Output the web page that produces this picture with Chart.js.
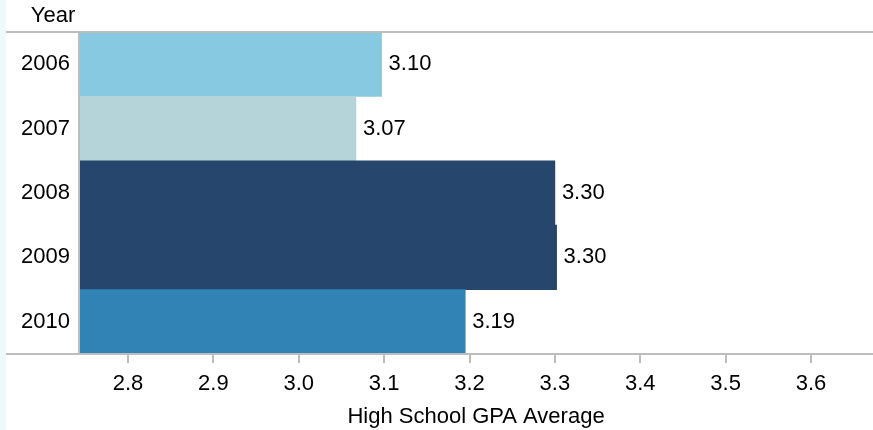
<!DOCTYPE html>
<html>
<head>
<meta charset="utf-8">
<script src="https://cdn.jsdelivr.net/npm/chart.js@4"></script>
<style>
  html, body { margin: 0; padding: 0; background: #fff; }
  #wrap { width: 873px; height: 430px; position: relative; }
</style>
</head>
<body>
<div id="wrap"><canvas id="c" width="873" height="430"></canvas></div>
<script>
// data
const years   = ['2006', '2007', '2008', '2009', '2010'];
const gpa     = [3.097, 3.067, 3.300, 3.302, 3.195];
const labels  = ['3.10', '3.07', '3.30', '3.30', '3.19'];
const colors  = ['#86c9e1', '#b5d4da', '#26466d', '#26466d', '#3283b5'];
const xTicks  = [2.8, 2.9, 3.0, 3.1, 3.2, 3.3, 3.4, 3.5, 3.6];

const FONT = "'Liberation Sans', Arial, sans-serif";
const LINE = '#bdbdbd';

// ── Extras: left strip, frame lines, "Year" header, bar value labels ──
const extras = {
  id: 'extras',
  beforeDraw(chart) {
    const ctx = chart.ctx;
    ctx.save();
    ctx.fillStyle = '#eef9fb';
    ctx.fillRect(0, 0, 6, chart.height);
    ctx.restore();
  },
  afterDraw(chart) {
    const { ctx, chartArea: a } = chart;
    ctx.save();
    ctx.strokeStyle = LINE;
    ctx.lineWidth = 2;
    ctx.beginPath();
    ctx.moveTo(6, a.top); ctx.lineTo(chart.width, a.top);
    ctx.moveTo(6, a.bottom); ctx.lineTo(chart.width, a.bottom);
    ctx.moveTo(a.left, a.top); ctx.lineTo(a.left, a.bottom);
    ctx.stroke();

    ctx.fillStyle = '#000';
    ctx.font = '22px ' + FONT;
    ctx.textAlign = 'center';
    ctx.textBaseline = 'middle';
    ctx.fillText('Year', 53, 16);

    ctx.textAlign = 'left';
    chart.getDatasetMeta(0).data.forEach((bar, i) => {
      ctx.fillText(labels[i], bar.x + 7, bar.y);
    });
    ctx.restore();
  }
};

new Chart(document.getElementById('c'), {
  type: 'bar',
  data: {
    labels: years,
    datasets: [{
      data: gpa,
      backgroundColor: colors,
      borderWidth: 0,
      categoryPercentage: 1,
      barPercentage: 1,
      base: 2.7426
    }]
  },
  options: {
    indexAxis: 'y',
    responsive: false,
    animation: false,
    layout: { padding: { top: 32, right: 0, left: 0, bottom: 0 } },
    plugins: { legend: { display: false }, tooltip: { enabled: false } },
    scales: {
      x: {
        min: 2.7426,
        max: 3.6726,
        afterBuildTicks: s => { s.ticks = xTicks.map(v => ({ value: v })); },
        afterFit: s => { s.height = 76; },
        grid: { drawOnChartArea: false, tickLength: 9, color: LINE, lineWidth: 2 },
        border: { display: false },
        ticks: {
          color: '#000', padding: 8, maxRotation: 0,
          font: { family: FONT, size: 22 },
          callback: v => v.toFixed(1)
        },
        title: {
          display: true, text: 'High School GPA Average', color: '#000',
          font: { family: FONT, size: 22 }, padding: { top: 0, bottom: 0 }
        }
      },
      y: {
        afterFit: s => { s.width = 79; },
        grid: { display: false },
        border: { display: false },
        ticks: { color: '#000', padding: 1, font: { family: FONT, size: 22 } }
      }
    }
  },
  plugins: [extras]
});
</script>
</body>
</html>
